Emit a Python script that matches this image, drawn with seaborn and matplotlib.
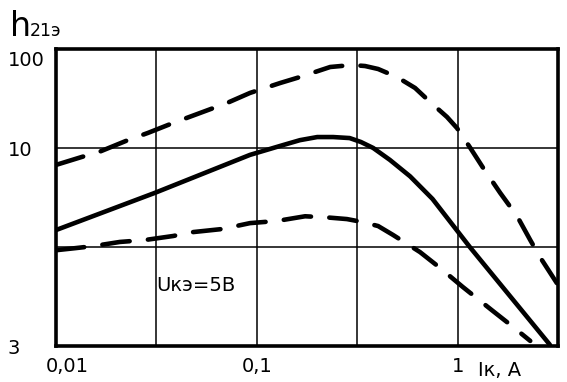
import numpy as np
import pandas as pd
import seaborn as sns
import matplotlib.pyplot as plt
from matplotlib.transforms import ScaledTranslation

# collector current, A  /  current gain h21e
solid_i = [0.01, 0.031, 0.0925, 0.135, 0.164, 0.20, 0.24, 0.29, 0.33, 0.38, 0.46, 0.58, 0.75, 1.15, 2.88]
solid_h = [5.63, 7.3, 9.53, 10.7, 12.0, 12.9, 12.9, 12.6, 11.5, 10.0, 9.2, 8.2, 7.0, 5.0, 3.02]

upper_i = [0.0101, 0.0135, 0.0162, 0.0229, 0.0287, 0.0383, 0.0504, 0.0711, 0.0925, 0.131,
           0.164, 0.232, 0.298, 0.346, 0.402, 0.499, 0.614, 0.729, 0.885, 0.993, 1.15,
           1.34, 1.63, 1.98, 2.30, 2.57, 3.12]
upper_h = [8.9, 9.4, 9.7, 12.05, 14.2, 17.9, 22.0, 28.5, 36.0, 45.4,
           52.1, 65.8, 68.9, 67.3, 62.8, 52.1, 40.4, 29.2, 20.6, 15.9, 10.2,
           8.7, 7.3, 6.2, 5.25, 4.75, 4.15]

lower_i = [0.0101, 0.01245, 0.0153, 0.0208, 0.0277, 0.0383, 0.0481, 0.0671, 0.0925, 0.126,
           0.174, 0.224, 0.281, 0.334, 0.402, 0.477, 0.650, 0.817, 1.06, 1.48, 1.89, 2.30]
lower_h = [4.92, 4.97, 5.03, 5.18, 5.25, 5.40, 5.55, 5.67, 5.91, 6.0,
           6.2, 6.15, 6.08, 5.96, 5.79, 5.44, 4.87, 4.49, 4.07, 3.61, 3.31, 3.08]

x_ticks = [0.01, 0.0316, 0.1, 0.316, 1]
x_labels = ['0,01', '', '0,1', '', '1']
y_ticks = [3, 5, 10, 100]
y_labels = ['3', '', '10', '100']

# the printed y axis is not a true log axis: every grid step is the same height
y_pos = [0, 1, 2, 3]
log_knots = np.log10([0.01] + y_ticks + [1e6])
pos_knots = np.array([-12.0] + y_pos + [7.0])
pos_knots[0] = y_pos[0] - (np.log10(y_ticks[0]) - log_knots[0]) / (np.log10(5) - np.log10(3))
pos_knots[-1] = y_pos[-1] + (log_knots[-1] - 2)


def fwd(y):
    y = np.clip(np.asarray(y, dtype=float), 1e-9, None)
    return np.interp(np.log10(y), log_knots, pos_knots)


def inv(u):
    return 10 ** np.interp(np.asarray(u, dtype=float), pos_knots, log_knots)


sns.set_style('white')
plt.rcParams['font.family'] = ['DejaVu Sans']

fig = plt.figure(figsize=(5.67, 3.82), dpi=100)
ax = fig.add_axes([56 / 567, 1 - 346 / 382, 502 / 567, 297 / 382])
ax.set_xscale('log')
ax.set_yscale('function', functions=(fwd, inv))

dash = (0, (6.0, 4.0))
sns.lineplot(x=solid_i, y=solid_h, color='black', linewidth=3.3, estimator=None,
             sort=False, solid_capstyle='round', ax=ax)
sns.lineplot(x=upper_i, y=upper_h, color='black', linewidth=3.3, estimator=None,
             sort=False, linestyle=dash, dash_capstyle='round', ax=ax)
sns.lineplot(x=lower_i, y=lower_h, color='black', linewidth=3.3, estimator=None,
             sort=False, linestyle=dash, dash_capstyle='round', ax=ax)

ax.set_xlim(0.01, 10 ** 0.5)
ax.set_ylim(3, 100)
ax.set_xticks(x_ticks)
ax.set_xticklabels(x_labels)
ax.set_yticks(y_ticks)
ax.set_yticklabels(y_labels)
ax.xaxis.set_minor_locator(plt.NullLocator())
ax.yaxis.set_minor_locator(plt.NullLocator())
ax.tick_params(axis='both', length=0, labelsize=14, colors='black')
ax.tick_params(axis='x', pad=8)
ax.tick_params(axis='y', pad=35)
for lab in ax.get_yticklabels():
    lab.set_horizontalalignment('left')

# nudge a few labels the way they sit in the print
lab_x = ax.get_xticklabels()
lab_x[0].set_transform(lab_x[0].get_transform() + ScaledTranslation(11 / 100, 0, fig.dpi_scale_trans))
lab_y = ax.get_yticklabels()
lab_y[3].set_transform(lab_y[3].get_transform() + ScaledTranslation(0, -10 / 100, fig.dpi_scale_trans))

ax.set_axisbelow(True)
ax.grid(True, color='black', linewidth=1.1)
for s in ax.spines.values():
    s.set_visible(True)
    s.set_color('black')
    s.set_linewidth(2.6)

ax.set_xlabel('')
ax.set_ylabel('')

fig.text(10 / 567, 1 - 36 / 382, 'h', fontsize=24, color='black', va='baseline')
fig.text(30 / 567, 1 - 36 / 382, '21э', fontsize=12.5, color='black', va='baseline')
ax.text(0.20, 0.205, 'Uкэ=5В', transform=ax.transAxes, fontsize=14, color='black',
        va='center', ha='left')
fig.text(478 / 567, 1 - 371 / 382, 'Iк, А', fontsize=14, color='black', va='center', ha='left')

fig.savefig('out.png', dpi=100)
